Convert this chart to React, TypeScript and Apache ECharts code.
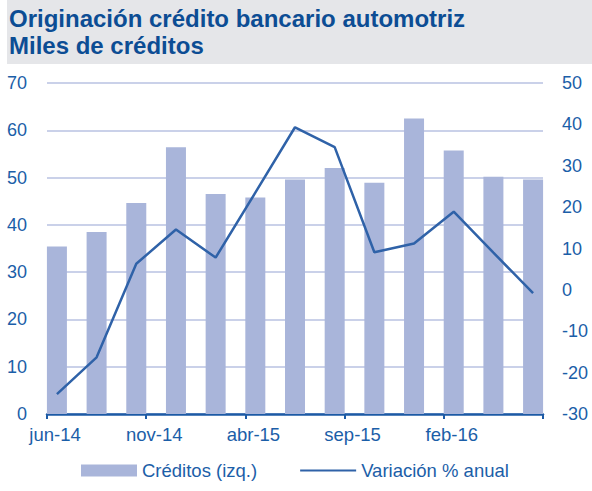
import React, { useEffect, useRef } from "react";
import * as echarts from "echarts";

// Bimonthly periods (jun-14 .. jun-16)
const categories = [
  "jun-14", "ago-14", "oct-14", "dic-14", "feb-15", "abr-15", "jun-15",
  "ago-15", "oct-15", "dic-15", "feb-16", "abr-16", "jun-16",
];
// Créditos (miles), left axis
const creditos = [35.4, 38.5, 44.6, 56.4, 46.5, 45.8, 49.6, 52.0, 48.9, 62.5, 55.7, 50.2, 49.6];
// Variación % anual, right axis
const variacion = [-25.2, -16.3, 6.3, 14.6, 7.8, 23.5, 39.3, 34.5, 9.1, 11.2, 18.9, 9.0, -0.8];
// Axis tick labels every 5 months starting jun-14
const tickLabels = ["jun-14", "nov-14", "abr-15", "sep-15", "feb-16", ""];
const monthsPerPoint = 2;
const totalMonths = 25;
const labelStepMonths = 5;

const BLUE_TEXT = "#1b5ea8";
const TITLE_BLUE = "#0c4d94";
const FONT = "Liberation Sans, Arial, sans-serif";

export default function App() {
  const ref = useRef<HTMLDivElement>(null);
  useEffect(() => {
    if (!ref.current) return;
    const chart = echarts.init(ref.current, null, { renderer: "svg" });
    const xPos = categories.map((_, i) => i * monthsPerPoint + 0.5);
    chart.setOption({
      animation: false,
      backgroundColor: "#ffffff",
      graphic: [
        {
          type: "rect",
          shape: { x: 7, y: 0, width: 585, height: 64 },
          style: { fill: "#e5e6e9" },
          z: -10,
        },
      ],
      title: {
        text: "Originación crédito bancario automotriz\nMiles de créditos",
        left: 9,
        top: 5,
        padding: 0,
        textStyle: {
          fontFamily: FONT,
          fontSize: 24,
          fontWeight: "bold",
          color: TITLE_BLUE,
          lineHeight: 27,
        },
      },
      grid: { left: 47, right: 49, top: 83, bottom: 77, containLabel: false },
      legend: {
        left: 81,
        top: 461,
        padding: 0,
        itemWidth: 56,
        itemHeight: 12,
        itemGap: 42,
        textStyle: {
          fontFamily: FONT,
          fontSize: 18.5,
          color: BLUE_TEXT,
        },
        data: [
          { name: "Créditos (izq.)", icon: "rect" },
          { name: "Variación % anual", itemStyle: { color: "rgba(0,0,0,0)", opacity: 0, borderWidth: 0 } },
        ],
      },
      xAxis: {
        type: "value",
        min: 0,
        max: totalMonths,
        interval: labelStepMonths,
        splitLine: { show: false },
        axisLine: { show: true, onZero: false, lineStyle: { color: "#1c5aa5", width: 2.5 } },
        axisTick: { show: true, length: 5, lineStyle: { color: "#1c5aa5", width: 2 } },
        axisLabel: {
          margin: 11,
          padding: [0, 0, 0, 16],
          fontFamily: FONT,
          fontSize: 18.5,
          color: BLUE_TEXT,
          showMaxLabel: true,
          formatter: (v: number) => tickLabels[Math.round(v / labelStepMonths)] ?? "",
        },
      },
      yAxis: [
        {
          type: "value",
          min: 0,
          max: 70,
          interval: 10,
          axisLine: { show: false },
          axisTick: { show: false },
          splitLine: { show: true, lineStyle: { color: "#b8c2e2", width: 1.5 } },
          axisLabel: {
            margin: 20,
            fontFamily: FONT,
            fontSize: 18,
            color: BLUE_TEXT,
          },
        },
        {
          type: "value",
          min: -30,
          max: 50,
          interval: 10,
          position: "right",
          axisLine: { show: false },
          axisTick: { show: false },
          splitLine: { show: false },
          axisLabel: {
            margin: 19,
            fontFamily: FONT,
            fontSize: 18,
            color: BLUE_TEXT,
          },
        },
      ],
      series: [
        {
          name: "Créditos (izq.)",
          type: "bar",
          yAxisIndex: 0,
          barWidth: 20,
          itemStyle: { color: "#a9b5da" },
          data: creditos.map((v, i) => [xPos[i], v]),
        },
        {
          name: "Variación % anual",
          type: "line",
          yAxisIndex: 1,
          symbol: "none",
          lineStyle: { color: "#2f62a8", width: 2.5 },
          itemStyle: { color: "#2f62a8" },
          data: variacion.map((v, i) => [xPos[i], v]),
        },
      ],
    });
    return () => chart.dispose();
  }, []);
  return <div ref={ref} style={{ width: 592, height: 491, position: "absolute", left: 0, top: 0 }} />;
}
